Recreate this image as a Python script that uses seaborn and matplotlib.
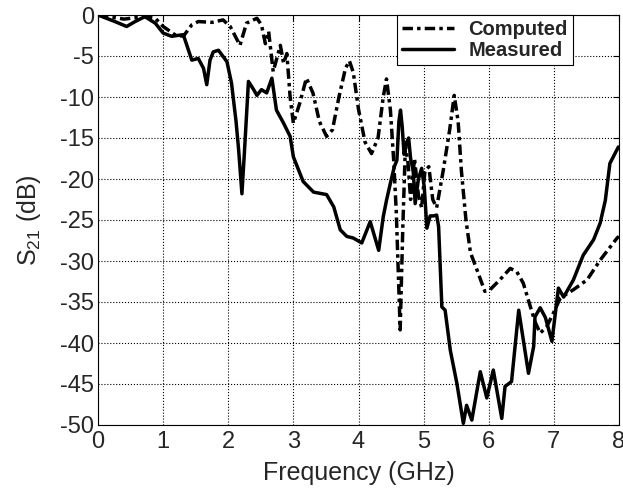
import matplotlib
matplotlib.use("Agg")
import matplotlib.pyplot as plt
import seaborn as sns
import pandas as pd

measured_f = [0, 0.26, 0.44, 0.57, 0.72, 0.88, 1.0, 1.13, 1.31, 1.44, 1.54, 1.62, 1.67, 1.72, 1.77,
              1.85, 1.98, 2.05, 2.12, 2.16, 2.21, 2.25, 2.31, 2.39, 2.44, 2.51, 2.59, 2.67, 2.74, 2.85,
              2.95, 3.0, 3.15, 3.31, 3.51, 3.62, 3.72, 3.82, 3.92, 4.05, 4.18, 4.31, 4.38, 4.43, 4.49,
              4.55, 4.59, 4.62, 4.645, 4.67, 4.70, 4.74, 4.77, 4.80, 4.84, 4.87, 4.92, 4.97, 5.01, 5.05,
              5.10, 5.15, 5.2, 5.23, 5.28, 5.33, 5.41, 5.51, 5.61, 5.66, 5.74, 5.87, 5.97, 6.07, 6.2,
              6.25, 6.35, 6.46, 6.61, 6.69, 6.71, 6.79, 6.87, 6.97, 7.07, 7.15, 7.3, 7.45, 7.61, 7.71,
              7.79, 7.86, 7.99]
measured_db = [0, -0.8, -1.4, -0.8, -0.2, -1.0, -2.2, -2.6, -2.4, -5.5, -5.3, -6.5, -8.5, -5.5, -4.5,
               -4.3, -5.7, -8.3, -13, -16.5, -21.8, -16.5, -8.1, -9.1, -9.8, -9.1, -9.5, -7.7, -11.6, -13.2,
               -14.8, -17.3, -20.3, -21.6, -21.9, -23.4, -26.2, -27.0, -27.2, -27.8, -25.2, -28.7, -24.6, -22.6, -20.5,
               -18.5, -17.7, -13, -11.6, -13.5, -17, -15.5, -15, -17.5, -19, -23, -20, -18.7, -21, -26,
               -24.5, -24.5, -24.4, -25.8, -35.6, -36, -40.9, -44.9, -49.8, -47.6, -49.4, -43.5, -46.7, -43.3, -49.2,
               -45.3, -44.7, -36, -43.7, -40.4, -36.8, -35.7, -36.9, -39.8, -33.3, -34.4, -32.3, -29.3, -27.4, -25.4,
               -22.6, -18.1, -16.1]

computed_f = [0, 0.4, 0.72, 0.88, 1.0, 1.18, 1.31, 1.44, 1.54, 1.75, 1.92, 2.03, 2.18, 2.28, 2.44,
              2.51, 2.57, 2.62, 2.69, 2.80, 2.85, 2.90, 2.95, 3.0, 3.1, 3.2, 3.3, 3.4, 3.51, 3.6,
              3.7, 3.8, 3.86, 3.92, 4.0, 4.1, 4.2, 4.3, 4.38, 4.43, 4.49, 4.54, 4.58, 4.64, 4.68,
              4.72, 4.76, 4.80, 4.86, 4.92, 4.97, 5.02, 5.08, 5.14, 5.2, 5.3, 5.4, 5.47, 5.53, 5.58,
              5.65, 5.72, 5.82, 5.94, 6.02, 6.17, 6.33, 6.43, 6.53, 6.64, 6.71, 6.79, 6.89, 6.99, 7.1,
              7.3, 7.51, 7.71, 7.97, 8.0]
computed_db = [0, -0.5, -0.2, -0.4, -1.4, -2.4, -2.6, -1.2, -0.8, -0.9, -0.6, -1.4, -3.7, -1.0, -0.4,
               -1.2, -3.5, -2.0, -6.9, -3.7, -5.9, -4.7, -10.0, -13.2, -10.7, -7.7, -9.5, -13, -14.8, -14,
               -10, -6.5, -5.6, -7, -11.5, -15.5, -16.9, -15, -10, -7.8, -11.6, -17.7, -24, -38.4, -26,
               -16, -18, -22.5, -17.5, -22, -23.5, -19, -18.5, -22.5, -23.5, -19, -14, -9.8, -13, -19,
               -25, -29, -31.1, -33.7, -33.5, -32.3, -30.9, -31.3, -32.7, -35.6, -37.4, -38.8, -38.0, -36.4, -34.5,
               -33.5, -32.3, -29.9, -27.2, -27.0]

x_ticks = [0, 1, 2, 3, 4, 5, 6, 7, 8]
y_ticks = [0, -5, -10, -15, -20, -25, -30, -35, -40, -45, -50]

sns.set_style("white")
plt.rcParams['font.family'] = ['Liberation Sans', 'DejaVu Sans']
plt.rcParams['mathtext.fontset'] = 'custom'
plt.rcParams['mathtext.rm'] = 'Liberation Sans'

df_c = pd.DataFrame({"f": computed_f, "db": computed_db})
df_m = pd.DataFrame({"f": measured_f, "db": measured_db})

fig = plt.figure(figsize=(6.23, 4.93), dpi=100)
ax = fig.add_axes([98/623, 1 - 425/493, (619-98)/623, (425-15)/493])

sns.lineplot(data=df_c, x="f", y="db", ax=ax, color="black", lw=2.5, estimator=None, sort=False,
             label="Computed", linestyle=(0, (3, 1.2, 1, 1.2)))
sns.lineplot(data=df_m, x="f", y="db", ax=ax, color="black", lw=2.5, estimator=None, sort=False,
             label="Measured")

ax.set_xlim(0, 8)
ax.set_ylim(-50, 0)
ax.set_xticks(x_ticks)
ax.set_yticks(y_ticks)
ax.set_xticklabels([str(t) for t in x_ticks])
ax.set_yticklabels([str(t) for t in y_ticks])
ax.tick_params(direction='in', top=True, right=True, labelsize=17, length=4, width=0.8, color='black', pad=3)
ax.tick_params(axis='x', pad=4)
ax.grid(True, linestyle=':', color='black', lw=0.8)
for s in ax.spines.values():
    s.set_color('black')
    s.set_linewidth(0.8)

ax.set_xlabel("Frequency (GHz)", fontsize=18, labelpad=6)
ax.set_ylabel(r"S$_{21}$ (dB)", fontsize=18, labelpad=12)

leg = ax.legend(loc='upper left', bbox_to_anchor=((397-98)/521, 1.0), frameon=True, fancybox=False,
                edgecolor='black', framealpha=1, handlelength=2.6, borderpad=0.25, labelspacing=0.1,
                handletextpad=0.7, borderaxespad=0.0, prop={'weight': 'bold', 'size': 14.5})
leg.get_frame().set_linewidth(0.8)

fig.savefig("out.png", dpi=100)
